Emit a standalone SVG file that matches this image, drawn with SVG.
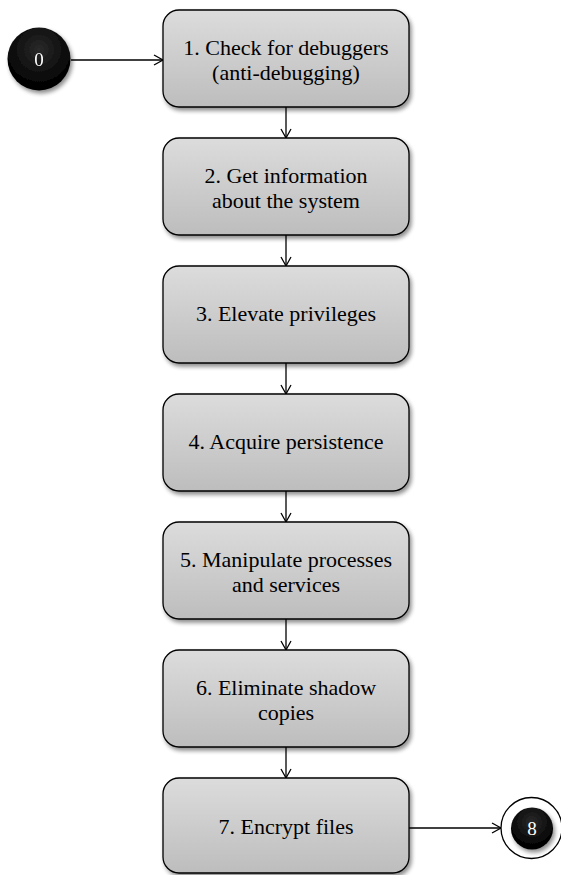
<svg xmlns="http://www.w3.org/2000/svg" width="561" height="875" viewBox="0 0 561 875">
<style>
.box{fill:url(#g);stroke:#000;stroke-width:1.3}
.t{font-family:"Liberation Serif","Times New Roman",serif;font-size:22px;fill:#000;text-anchor:middle}
.ct{font-family:"Liberation Serif","Times New Roman",serif;font-size:19px;fill:#fff;text-anchor:middle}
.c{stroke:#000;stroke-width:1.3;fill:none;marker-end:url(#a)}
</style>
<defs>
<linearGradient id="g" x1="0" y1="0" x2="0" y2="1">
<stop offset="0" stop-color="#dcdcdc"/>
<stop offset="1" stop-color="#bdbdbd"/>
</linearGradient>
<radialGradient id="k" cx="0.5" cy="0.35" r="0.6">
<stop offset="0" stop-color="#2a2a2a"/>
<stop offset="1" stop-color="#000"/>
</radialGradient>
<filter id="s" x="-10%" y="-10%" width="130%" height="130%">
<feGaussianBlur in="SourceAlpha" stdDeviation="2"/>
<feOffset dx="2" dy="3" result="b"/>
<feComponentTransfer><feFuncA type="linear" slope="0.45"/></feComponentTransfer>
<feMerge><feMergeNode/><feMergeNode in="SourceGraphic"/></feMerge>
</filter>
<marker id="a" markerWidth="12" markerHeight="12" refX="10" refY="6" orient="auto" markerUnits="userSpaceOnUse">
<path d="M1,1 L10,6 L1,11" fill="none" stroke="#000" stroke-width="1.3"/>
</marker>
</defs>
<g id="connectors">
<line class="c" x1="71" y1="60" x2="163" y2="60"/>
<line class="c" x1="286" y1="107" x2="286" y2="138"/>
<line class="c" x1="286" y1="235" x2="286" y2="266"/>
<line class="c" x1="286" y1="363" x2="286" y2="394"/>
<line class="c" x1="286" y1="491" x2="286" y2="522"/>
<line class="c" x1="286" y1="619" x2="286" y2="650"/>
<line class="c" x1="286" y1="747" x2="286" y2="778"/>
<line class="c" x1="409" y1="828" x2="501" y2="828"/>
</g>
<g id="n0" filter="url(#s)">
<circle cx="39" cy="59" r="31.5" fill="url(#k)"/>
<text class="ct" x="39" y="66">0</text>
</g>
<g id="n1">
<rect class="box" filter="url(#s)" x="163" y="10" width="246" height="97" rx="16"/>
<text class="t" x="286" y="55">1. Check for debuggers</text>
<text class="t" x="286" y="80">(anti-debugging)</text>
</g>
<g id="n2">
<rect class="box" filter="url(#s)" x="163" y="138" width="246" height="97" rx="16"/>
<text class="t" x="286" y="183">2. Get information</text>
<text class="t" x="286" y="208">about the system</text>
</g>
<g id="n3">
<rect class="box" filter="url(#s)" x="163" y="266" width="246" height="97" rx="16"/>
<text class="t" x="286" y="321">3. Elevate privileges</text>
</g>
<g id="n4">
<rect class="box" filter="url(#s)" x="163" y="394" width="246" height="97" rx="16"/>
<text class="t" x="286" y="449">4. Acquire persistence</text>
</g>
<g id="n5">
<rect class="box" filter="url(#s)" x="163" y="522" width="246" height="97" rx="16"/>
<text class="t" x="286" y="567">5. Manipulate processes</text>
<text class="t" x="286" y="592">and services</text>
</g>
<g id="n6">
<rect class="box" filter="url(#s)" x="163" y="650" width="246" height="97" rx="16"/>
<text class="t" x="286" y="695">6. Eliminate shadow</text>
<text class="t" x="286" y="720">copies</text>
</g>
<g id="n7">
<rect class="box" filter="url(#s)" x="163" y="778" width="246" height="95" rx="16"/>
<text class="t" x="286" y="834">7. Encrypt files</text>
</g>
<g id="n8">
<circle cx="531.5" cy="828" r="30.5" fill="#fff" stroke="#000" stroke-width="1.3"/>
<circle cx="532" cy="828.5" r="21" fill="url(#k)" filter="url(#s)"/>
<text class="ct" x="532" y="835">8</text>
</g>
</svg>
